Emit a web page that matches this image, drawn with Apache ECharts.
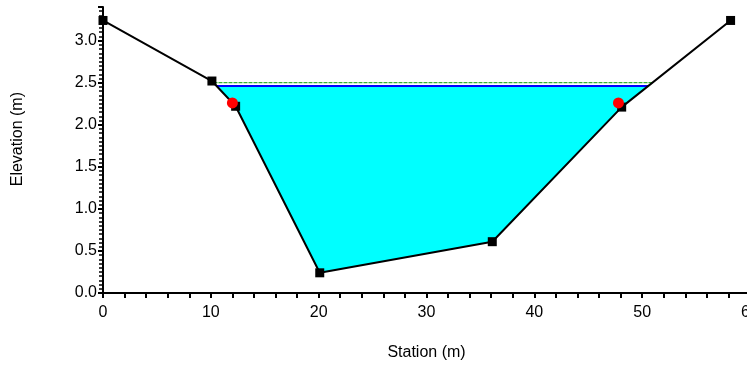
<!DOCTYPE html>
<html>
<head>
<meta charset="utf-8">
<script src="https://cdn.jsdelivr.net/npm/echarts@6/dist/echarts.min.js"></script>
<style>
  html, body { margin: 0; padding: 0; background: #fff; }
  #chart { width: 747px; height: 365px; }
</style>
</head>
<body>
<div id="chart"></div>
<script>
// cross-section profile
const station = [0, 10.1, 12.3, 20.1, 36.1, 48.1, 58.2];
const elevation = [3.24, 2.52, 2.22, 0.24, 0.61, 2.21, 3.24];
// water surface / energy grade
const waterSurface = 2.46;
const energyGrade = 2.5;
// bank stations (red dots)
const bankStation = [12.0, 47.8];
const bankElevation = [2.26, 2.26];

const profile = station.map((s, i) => [s, elevation[i]]);

// where the profile crosses a level, left and right side
function crossing(level) {
  let left = null, right = null;
  for (let i = 0; i < profile.length - 1; i++) {
    let a = profile[i], b = profile[i + 1];
    if ((a[1] - level) * (b[1] - level) <= 0 && a[1] != b[1]) {
      let x = a[0] + (level - a[1]) / (b[1] - a[1]) * (b[0] - a[0]);
      if (left === null) left = x;
      right = x;
    }
  }
  return [left, right];
}

const ws = crossing(waterSurface);
const eg = crossing(energyGrade);
const waterPoly = [[ws[0], waterSurface]]
  .concat(profile.filter((p) => p[0] > ws[0] && p[0] < ws[1]))
  .concat([[ws[1], waterSurface]]);

const chart = echarts.init(document.getElementById("chart"));
const font = "Liberation Sans, Arial, sans-serif";
const option = {
  animation: false,
  grid: { left: 103, right: -3, top: 7, bottom: 72, outerBoundsMode: "none" },
  xAxis: {
    type: "value",
    min: 0,
    max: 60,
    interval: 10,
    name: "Station (m)",
    nameLocation: "middle",
    nameGap: 52,
    nameTextStyle: { color: "#000", fontSize: 16, fontFamily: font },
    axisLine: { lineStyle: { color: "#000", width: 2 } },
    axisTick: { length: 5, lineStyle: { color: "#000", width: 2 } },
    minorTick: { show: true, splitNumber: 5, length: 5, lineStyle: { color: "#000", width: 2 } },
    axisLabel: { color: "#000", fontSize: 16, fontFamily: font, margin: 12, hideOverlap: false },
    splitLine: { show: false },
  },
  yAxis: {
    type: "value",
    min: 0,
    max: 3.4,
    interval: 0.5,
    axisLine: { show: true, lineStyle: { color: "#000", width: 2 } },
    axisTick: { show: true, length: 5, lineStyle: { color: "#000", width: 2 } },
    minorTick: { show: true, splitNumber: 10, length: 4, lineStyle: { color: "#000", width: 1.5 } },
    axisLabel: {
      color: "#000",
      fontSize: 16,
      fontFamily: font,
      margin: 6,
      padding: [10, 0, 0, 0],
      showMaxLabel: false,
      formatter: (v) => (v > 3.2 ? "" : v.toFixed(1)),
    },
    splitLine: { show: false },
  },
  graphic: [
    {
      type: "text",
      left: 10,
      top: 92,
      rotation: Math.PI / 2,
      style: { text: "Elevation (m)", fill: "#000", font: "16px " + font },
    },
  ],
  series: [
    {
      type: "custom",
      z: 1,
      data: [[0, 0]],
      renderItem: (params, api) => ({
        type: "polygon",
        shape: { points: waterPoly.map((p) => api.coord(p)) },
        style: { fill: "#00ffff" },
      }),
      silent: true,
    },
    {
      type: "line",
      z: 2,
      data: [[eg[0], energyGrade], [eg[1], energyGrade]],
      symbol: "none",
      lineStyle: { color: "#00a000", width: 1, type: [4, 1] },
    },
    {
      type: "line",
      z: 3,
      data: [[ws[0], waterSurface], [ws[1], waterSurface]],
      symbol: "none",
      lineStyle: { color: "#0000ff", width: 2 },
    },
    {
      type: "line",
      z: 4,
      data: profile,
      symbol: "rect",
      symbolSize: 9,
      itemStyle: { color: "#000" },
      lineStyle: { color: "#000", width: 2 },
    },
    {
      type: "scatter",
      z: 5,
      data: bankStation.map((s, i) => [s, bankElevation[i]]),
      symbol: "circle",
      symbolSize: 11,
      itemStyle: { color: "#ff0000", opacity: 1 },
    },
  ],
};
chart.setOption(option);
</script>
</body>
</html>
